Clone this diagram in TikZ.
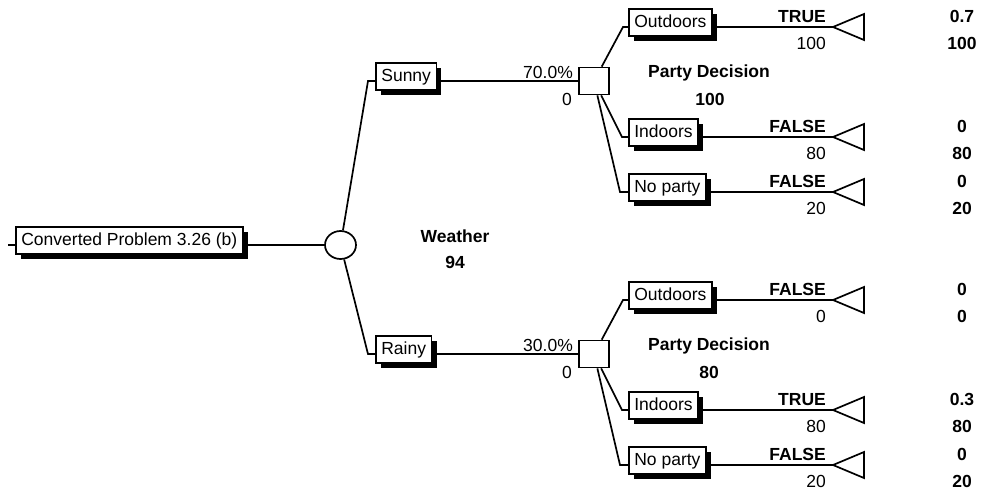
\documentclass[tikz,border=0pt]{standalone}
\usepackage{fontspec}
\setmainfont{Liberation Sans}
\usetikzlibrary{shapes.geometric,shadows}
\begin{document}
\begin{tikzpicture}[x=1pt,y=-1pt,line width=1.7pt,
    every node/.style={font=\fontsize{17.5}{21}\selectfont},
    val/.style={font=\fontsize{17.5}{21}\selectfont\bfseries},
    branch/.style={draw,fill=white,inner xsep=5.5pt,inner ysep=5pt,
      text height=13pt,text depth=4pt,
      drop shadow={shadow xshift=5pt,shadow yshift=-5pt,fill=black,opacity=1}},
    chance/.style={draw,ellipse,minimum width=31pt,minimum height=28pt,inner sep=0pt},
    decision/.style={draw,rectangle,minimum width=30pt,minimum height=27pt,inner sep=0pt}]
  \useasboundingbox (0,0) rectangle (982,493);
  % root and chance node
  \coordinate (rootin) at (8,245);
  \node[branch,anchor=base west] (root) at (15,245) {Converted Problem 3.26 (b)};
  \node[chance] (weather) at (340.5,245) {};
  \node[val,anchor=base] (wname) at (455,242) {Weather};
  \node[val,anchor=base] (wval) at (455,268) {94};
  % sunny
  \coordinate (e1) at (368,81);
  \node[branch,anchor=base west] (sunny) at (375,81) {Sunny};
  \node[decision] (party1) at (594,81) {};
  \node[anchor=base east] (prob1) at (577,78) {70.0\%};
  \node[anchor=base east] (pay1) at (576,105) {0};
  \node[val,anchor=base] (pname1) at (709,77) {Party Decision};
  \node[val,anchor=base] (pval1) at (710,105) {100};
  % rainy
  \coordinate (e2) at (368,354);
  \node[branch,anchor=base west] (rainy) at (375,354) {Rainy};
  \node[decision] (party2) at (594,354) {};
  \node[anchor=base east] (prob2) at (577,351) {30.0\%};
  \node[anchor=base east] (pay2) at (576,378) {0};
  \node[val,anchor=base] (pname2) at (709,350) {Party Decision};
  \node[val,anchor=base] (pval2) at (709,378) {80};
  % sunny outcomes
  \coordinate (e11) at (623,27);
  \coordinate (e12) at (622,137);
  \coordinate (e13) at (620,192);
  \node[branch,anchor=base west] (out1) at (628,27) {Outdoors};
  \node[branch,anchor=base west] (in1) at (628,137) {Indoors};
  \node[branch,anchor=base west] (no1) at (628,192) {No party};
  \coordinate (t11) at (833,27);
  \coordinate (t12) at (833,137);
  \coordinate (t13) at (833,192);
  \node[val,anchor=base east] (lab11) at (830,22) {TRUE};
  \node[anchor=base east] (pay11) at (830,49) {100};
  \node[val,anchor=base] (prb11) at (962,22) {0.7};
  \node[val,anchor=base] (res11) at (962,49) {100};
  \node[val,anchor=base east] (lab12) at (830,132) {FALSE};
  \node[anchor=base east] (pay12) at (830,159) {80};
  \node[val,anchor=base] (prb12) at (962,132) {0};
  \node[val,anchor=base] (res12) at (962,159) {80};
  \node[val,anchor=base east] (lab13) at (830,187) {FALSE};
  \node[anchor=base east] (pay13) at (830,214) {20};
  \node[val,anchor=base] (prb13) at (962,187) {0};
  \node[val,anchor=base] (res13) at (962,214) {20};
  % rainy outcomes
  \coordinate (e21) at (623,300);
  \coordinate (e22) at (622,410);
  \coordinate (e23) at (620,465);
  \node[branch,anchor=base west] (out2) at (628,300) {Outdoors};
  \node[branch,anchor=base west] (in2) at (628,410) {Indoors};
  \node[branch,anchor=base west] (no2) at (628,465) {No party};
  \coordinate (t21) at (833,300);
  \coordinate (t22) at (833,410);
  \coordinate (t23) at (833,465);
  \node[val,anchor=base east] (lab21) at (830,295) {FALSE};
  \node[anchor=base east] (pay21) at (830,322) {0};
  \node[val,anchor=base] (prb21) at (962,295) {0};
  \node[val,anchor=base] (res21) at (962,322) {0};
  \node[val,anchor=base east] (lab22) at (830,405) {TRUE};
  \node[anchor=base east] (pay22) at (830,432) {80};
  \node[val,anchor=base] (prb22) at (962,405) {0.3};
  \node[val,anchor=base] (res22) at (962,432) {80};
  \node[val,anchor=base east] (lab23) at (830,460) {FALSE};
  \node[anchor=base east] (pay23) at (830,487) {20};
  \node[val,anchor=base] (prb23) at (962,460) {0};
  \node[val,anchor=base] (res23) at (962,487) {20};
  \begin{scope}[-]
    \draw (rootin) -- (root.base west);
    \draw (root.base east) -- (weather);
    \draw (weather) -- (e1) -- (sunny.base west);
    \draw (weather) -- (e2) -- (rainy.base west);
    \draw (sunny.base east) -- (party1);
    \draw (rainy.base east) -- (party2);
    \draw (party1) -- (e11) -- (out1.base west);
    \draw (party1) -- (e12) -- (in1.base west);
    \draw (party1) -- (e13) -- (no1.base west);
    \draw (party2) -- (e21) -- (out2.base west);
    \draw (party2) -- (e22) -- (in2.base west);
    \draw (party2) -- (e23) -- (no2.base west);
    \draw (out1.base east) -- (t11);
    \draw (in1.base east) -- (t12);
    \draw (no1.base east) -- (t13);
    \draw (out2.base east) -- (t21);
    \draw (in2.base east) -- (t22);
    \draw (no2.base east) -- (t23);
    % terminal triangles
    \draw (t11) -- ++(31,-13) -- ++(0,26) -- cycle;
    \draw (t12) -- ++(31,-13) -- ++(0,26) -- cycle;
    \draw (t13) -- ++(31,-13) -- ++(0,26) -- cycle;
    \draw (t21) -- ++(31,-13) -- ++(0,26) -- cycle;
    \draw (t22) -- ++(31,-13) -- ++(0,26) -- cycle;
    \draw (t23) -- ++(31,-13) -- ++(0,26) -- cycle;
  \end{scope}
\end{tikzpicture}
\end{document}
